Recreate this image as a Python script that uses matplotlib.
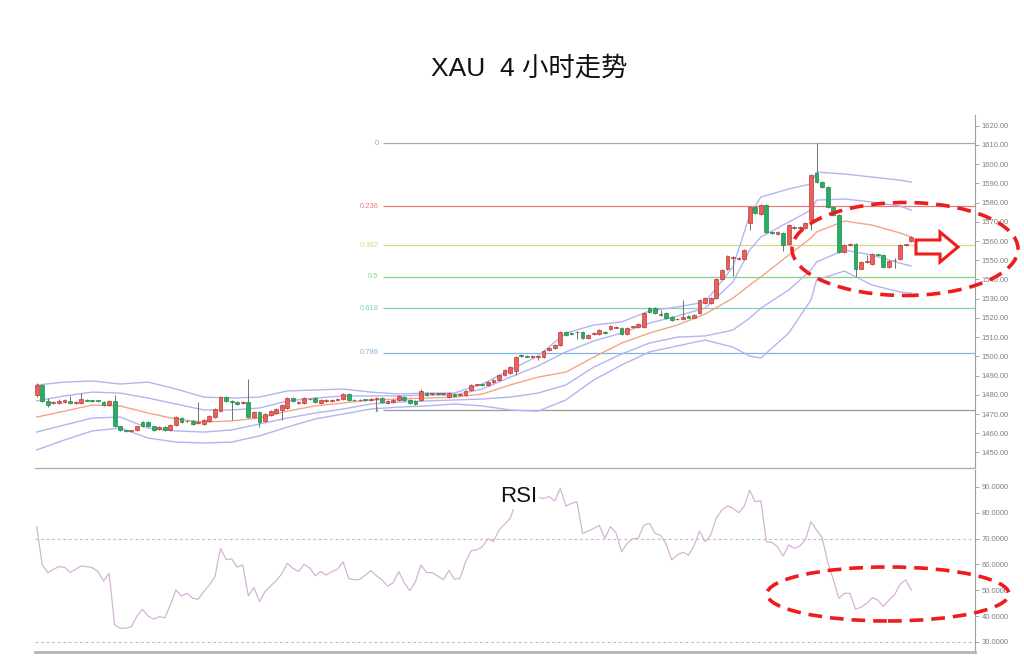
import matplotlib
matplotlib.use("Agg")
import matplotlib.pyplot as plt
from matplotlib.patches import Ellipse, Polygon, Rectangle

# ---------------- data ----------------
opens = [
    1480.0, 1485.0, 1477.0, 1475.5, 1475.5, 1476.0, 1477.0, 1475.5, 1475.8, 1477.2,
    1477.0, 1476.8, 1476.5, 1474.5, 1477.0, 1463.5, 1461.4, 1461.1, 1461.5, 1466.0,
    1466.0, 1463.5, 1462.0, 1463.0, 1461.7, 1464.5, 1468.0, 1466.3, 1466.5, 1465.3,
    1465.0, 1466.5, 1468.5, 1471.5, 1479.0, 1476.8, 1476.5, 1475.5, 1476.5, 1468.5,
    1471.2, 1466.5, 1469.5, 1470.5, 1472.0, 1473.0, 1478.2, 1475.6, 1475.6, 1477.6,
    1478.2, 1475.6, 1476.9, 1476.9, 1477.5, 1477.8, 1480.4, 1477.3, 1477.1, 1477.3,
    1477.3, 1478.0, 1478.2, 1475.8, 1476.4, 1477.3, 1478.9, 1477.3, 1476.9, 1477.3,
    1480.9, 1480.3, 1480.4, 1480.4, 1479.0, 1480.6, 1479.8, 1479.8, 1482.5, 1485.1,
    1485.1, 1485.1, 1486.8, 1487.6, 1490.5, 1491.5, 1492.5, 1500.5, 1500.2, 1499.8,
    1499.8, 1499.8, 1503.5, 1504.2, 1505.9, 1512.8, 1512.0, 1512.5, 1512.8, 1509.4,
    1511.8, 1511.8, 1512.8, 1514.0, 1515.0, 1514.6, 1511.8, 1515.2, 1515.4, 1515.4,
    1525.0, 1525.0, 1521.6, 1522.4, 1520.6, 1519.2, 1519.2, 1521.0, 1520.2, 1522.4,
    1527.6, 1528.0, 1530.2, 1540.0, 1545.5, 1551.0, 1550.9, 1550.9, 1569.2, 1577.8,
    1574.0, 1578.6, 1564.5, 1563.5, 1564.0, 1558.5, 1567.0, 1567.4, 1566.6, 1571.0,
    1595.2, 1590.9, 1588.3, 1577.8, 1573.5, 1554.4, 1558.0, 1558.3, 1545.7, 1549.0,
    1548.3, 1553.0, 1552.7, 1546.6, 1550.0, 1550.5, 1557.9, 1560.0]
highs = [
    1486.0, 1485.6, 1478.5, 1477.0, 1477.6, 1478.0, 1479.5, 1477.0, 1481.0, 1477.8,
    1477.5, 1477.4, 1477.0, 1477.5, 1480.0, 1464.0, 1461.8, 1461.6, 1464.0, 1466.5,
    1466.6, 1464.0, 1463.5, 1463.5, 1465.0, 1469.0, 1468.6, 1466.8, 1467.0, 1476.0,
    1467.5, 1469.5, 1473.0, 1479.5, 1479.6, 1477.5, 1477.0, 1476.6, 1488.0, 1471.8,
    1471.8, 1470.5, 1472.0, 1473.0, 1475.0, 1478.8, 1478.8, 1477.0, 1478.8, 1478.4,
    1478.8, 1477.8, 1477.7, 1478.0, 1478.3, 1481.0, 1481.0, 1477.8, 1477.8, 1477.8,
    1478.3, 1478.7, 1478.8, 1477.1, 1477.8, 1480.0, 1479.4, 1477.8, 1477.4, 1483.0,
    1481.4, 1481.0, 1480.9, 1481.1, 1481.5, 1481.1, 1480.5, 1482.6, 1485.6, 1485.7,
    1485.6, 1487.3, 1488.0, 1490.8, 1493.4, 1495.0, 1500.3, 1501.0, 1500.7, 1500.5,
    1500.3, 1503.5, 1504.8, 1506.4, 1513.3, 1513.3, 1512.5, 1513.3, 1513.3, 1511.6,
    1512.5, 1514.0, 1513.3, 1516.2, 1515.8, 1515.1, 1515.1, 1515.9, 1517.3, 1522.9,
    1525.6, 1525.5, 1524.0, 1522.9, 1521.1, 1520.0, 1529.3, 1521.5, 1522.0, 1529.8,
    1530.7, 1531.0, 1541.0, 1545.5, 1552.5, 1552.0, 1551.6, 1556.0, 1578.3, 1578.3,
    1579.1, 1579.1, 1565.0, 1565.0, 1564.5, 1568.8, 1567.9, 1567.9, 1570.0, 1594.8,
    1610.8, 1591.4, 1588.8, 1578.3, 1574.0, 1558.4, 1558.8, 1558.8, 1549.6, 1553.0,
    1554.0, 1553.5, 1553.2, 1550.0, 1551.0, 1558.4, 1558.6, 1562.5]
lows = [
    1479.0, 1476.2, 1473.8, 1475.0, 1475.0, 1475.5, 1475.0, 1475.0, 1475.3, 1476.6,
    1476.3, 1476.2, 1474.0, 1474.0, 1463.0, 1461.0, 1460.8, 1460.6, 1461.0, 1463.0,
    1463.0, 1461.2, 1461.5, 1461.2, 1461.2, 1464.0, 1465.5, 1465.7, 1464.5, 1464.8,
    1464.5, 1466.0, 1468.0, 1471.0, 1476.5, 1466.9, 1474.8, 1475.0, 1468.0, 1468.0,
    1463.0, 1466.0, 1469.0, 1470.0, 1467.0, 1472.5, 1476.3, 1475.1, 1475.1, 1477.1,
    1475.5, 1475.1, 1476.4, 1476.4, 1477.0, 1477.3, 1476.8, 1476.7, 1476.6, 1476.7,
    1476.8, 1471.5, 1475.9, 1475.3, 1475.9, 1476.8, 1476.8, 1475.1, 1474.7, 1476.8,
    1479.5, 1479.8, 1479.8, 1479.9, 1478.5, 1478.7, 1479.3, 1479.3, 1482.0, 1484.6,
    1484.5, 1484.6, 1486.3, 1487.1, 1490.0, 1491.0, 1490.5, 1499.9, 1499.5, 1499.3,
    1498.0, 1499.3, 1503.0, 1503.7, 1505.4, 1510.6, 1511.3, 1509.0, 1508.9, 1508.9,
    1511.3, 1511.3, 1511.5, 1513.5, 1514.5, 1511.3, 1511.3, 1514.7, 1514.9, 1514.9,
    1522.8, 1521.9, 1521.0, 1519.3, 1518.4, 1518.7, 1518.7, 1519.7, 1519.7, 1521.9,
    1527.1, 1527.5, 1529.7, 1539.5, 1545.0, 1542.0, 1550.3, 1550.4, 1565.7, 1574.0,
    1573.5, 1564.4, 1563.7, 1563.0, 1555.0, 1558.0, 1566.5, 1566.1, 1566.1, 1566.0,
    1590.4, 1587.8, 1577.3, 1573.0, 1553.9, 1553.9, 1557.5, 1541.4, 1545.2, 1548.5,
    1547.8, 1552.2, 1546.1, 1546.1, 1546.0, 1550.0, 1557.4, 1559.5]
closes = [
    1485.0, 1477.0, 1474.5, 1476.5, 1477.0, 1477.5, 1475.5, 1476.5, 1478.0, 1477.0,
    1476.8, 1476.7, 1474.5, 1477.0, 1463.5, 1461.5, 1461.1, 1461.2, 1463.5, 1463.8,
    1463.5, 1461.7, 1463.0, 1461.7, 1464.5, 1468.5, 1466.0, 1466.1, 1465.0, 1465.6,
    1467.0, 1469.0, 1472.5, 1478.7, 1477.0, 1476.5, 1475.3, 1476.0, 1468.5, 1471.2,
    1466.0, 1470.0, 1471.5, 1472.5, 1474.5, 1478.2, 1476.9, 1476.5, 1478.2, 1477.9,
    1476.0, 1477.3, 1477.2, 1477.5, 1477.8, 1480.4, 1477.3, 1477.1, 1477.3, 1477.2,
    1477.8, 1478.2, 1476.4, 1476.6, 1477.3, 1479.5, 1477.3, 1475.6, 1475.2, 1482.1,
    1480.0, 1480.5, 1480.3, 1480.6, 1481.0, 1479.2, 1480.0, 1482.1, 1485.1, 1485.2,
    1485.0, 1486.8, 1487.5, 1490.3, 1492.9, 1494.5, 1499.8, 1500.4, 1499.8, 1500.0,
    1499.8, 1503.0, 1504.2, 1505.9, 1512.8, 1511.1, 1511.8, 1512.8, 1509.4, 1511.1,
    1512.0, 1513.5, 1512.0, 1515.7, 1515.3, 1511.8, 1514.6, 1515.4, 1516.8, 1522.4,
    1523.3, 1522.4, 1521.8, 1519.8, 1518.9, 1519.5, 1520.6, 1520.2, 1521.5, 1529.3,
    1530.2, 1530.5, 1540.5, 1545.0, 1552.0, 1551.5, 1550.9, 1555.2, 1577.8, 1574.5,
    1578.6, 1564.9, 1564.2, 1564.5, 1557.9, 1568.3, 1567.4, 1566.6, 1569.5, 1594.3,
    1590.9, 1588.3, 1577.8, 1573.5, 1554.4, 1557.9, 1558.3, 1545.7, 1549.1, 1549.6,
    1553.5, 1552.7, 1546.6, 1549.5, 1550.3, 1557.9, 1558.1, 1562.0]

# Bollinger-style bands read at selected candle indices
band_idx = [0, 5, 10, 15, 20, 25, 30, 35, 40, 45, 50, 55, 60, 65, 70, 75, 80, 85, 90,
            95, 100, 105, 110, 115, 120, 125, 128, 130, 135, 139, 140, 145, 150, 155, 157]
bb_up2 = [1485.1, 1486.6, 1487.2, 1485.6, 1486.6, 1483.0, 1478.8, 1478.3, 1478.8, 1482.0,
          1482.5, 1483.0, 1481.4, 1480.4, 1480.9, 1480.9, 1485.6, 1492.9, 1500.2, 1512.1,
          1516.3, 1517.9, 1523.6, 1525.7, 1528.3, 1546.5, 1573.5, 1582.9, 1587.1, 1589.7,
          1595.9, 1594.9, 1593.3, 1591.7, 1590.7]
bb_up1 = [1476.8, 1479.4, 1481.4, 1480.9, 1478.3, 1475.2, 1472.1, 1472.1, 1473.1, 1476.8,
          1478.3, 1479.4, 1479.4, 1479.4, 1479.9, 1479.9, 1483.0, 1489.2, 1495.0, 1502.3,
          1508.0, 1512.1, 1517.3, 1521.0, 1525.1, 1538.7, 1555.3, 1562.1, 1569.9, 1576.1,
          1581.3, 1581.9, 1580.3, 1578.2, 1576.1]
bb_mid = [1468.4, 1471.5, 1474.7, 1474.2, 1470.5, 1467.4, 1465.8, 1466.4, 1467.9, 1471.5,
          1474.2, 1475.7, 1477.3, 1477.8, 1478.3, 1478.8, 1480.4, 1485.1, 1489.2, 1491.8,
          1499.6, 1506.9, 1512.1, 1516.3, 1522.0, 1530.3, 1537.1, 1541.3, 1552.7, 1561.6,
          1564.7, 1570.4, 1568.3, 1564.2, 1562.1]
bb_lo1 = [1460.6, 1464.3, 1467.9, 1468.4, 1462.7, 1461.2, 1460.6, 1461.7, 1464.8, 1467.9,
          1470.5, 1472.6, 1475.2, 1476.2, 1476.8, 1477.3, 1477.8, 1478.8, 1480.9, 1485.1,
          1494.4, 1501.2, 1506.9, 1510.0, 1510.6, 1513.7, 1519.9, 1525.1, 1534.5, 1544.9,
          1549.1, 1555.3, 1552.7, 1548.5, 1547.0]
bb_lo2 = [1451.3, 1456.5, 1461.2, 1462.7, 1457.5, 1455.4, 1454.9, 1455.4, 1458.6, 1463.2,
          1467.4, 1470.0, 1472.6, 1473.6, 1474.2, 1475.2, 1474.2, 1472.1, 1471.5, 1477.3,
          1487.7, 1495.5, 1502.3, 1505.4, 1508.5, 1504.8, 1500.2, 1499.1, 1512.1, 1529.3,
          1539.7, 1544.4, 1537.1, 1533.5, 1532.9]

rsi = [74.5, 59.8, 56.8, 58.1, 59.1, 58.9, 56.9, 58.1, 59.4, 59.1,
       58.7, 57.2, 53.6, 56.5, 36.6, 35.3, 35.3, 35.9, 40.0, 42.6,
       40.0, 38.8, 39.8, 39.3, 44.3, 50.1, 47.8, 48.8, 46.9, 46.5,
       49.5, 52.0, 55.2, 66.2, 61.9, 62.1, 58.9, 59.8, 47.8, 51.1,
       45.6, 49.5, 51.6, 53.7, 56.3, 60.4, 58.5, 57.2, 60.0, 58.7,
       55.6, 57.2, 55.9, 57.2, 58.1, 61.0, 54.6, 54.0, 54.2, 55.8,
       57.6, 55.6, 54.0, 51.6, 52.9, 57.2, 52.7, 49.8, 53.3, 59.8,
       56.8, 56.8, 55.5, 54.0, 57.6, 54.2, 54.6, 61.0, 65.3, 65.6,
       66.8, 69.9, 68.8, 73.3, 75.5, 77.8, 83.8, 85.5, 86.2, 85.1,
       85.9, 85.5, 86.2, 84.5, 89.4, 82.6, 83.6, 84.2, 72.0, 72.9,
       73.9, 75.1, 70.1, 74.6, 72.2, 64.9, 68.1, 69.9, 70.1, 75.2,
       75.9, 72.0, 71.2, 67.9, 61.7, 63.6, 64.7, 63.6, 67.1, 72.9,
       68.8, 71.3, 77.8, 81.0, 82.6, 81.7, 80.0, 82.3, 88.7, 84.2,
       84.6, 68.8, 68.5, 66.8, 63.2, 67.5, 66.2, 67.1, 69.4, 76.5,
       73.3, 70.4, 61.0, 54.2, 46.9, 48.8, 48.8, 42.6, 43.4, 44.9,
       47.1, 46.2, 43.7, 46.2, 48.2, 52.3, 54.0, 50.1]

fib_levels = [0, 0.236, 0.382, 0.5, 0.618, 0.786, 1]
fib_labels = ["0", "0.236", "0.382", "0.5", "0.618", "0.786", "1"]
fib_colors = ["#a8a8a8", "#e77b7b", "#d6d98a", "#86d486", "#7fd0bd", "#7fb3e3", "#9a9a9a"]
fib_high = 1611.0
fib_low = 1472.0
fib_start = 62.1

price_ticks = [1450, 1460, 1470, 1480, 1490, 1500, 1510, 1520, 1530, 1540,
               1550, 1560, 1570, 1580, 1590, 1600, 1610, 1620]
rsi_ticks = [30, 40, 50, 60, 70, 80, 90]
rsi_guides = [70, 30]

title = "XAU  4 小时走势"

# ---------------- figure ----------------
plt.rcParams['font.family'] = ['Liberation Sans', 'Noto Sans CJK SC', 'DejaVu Sans']

W, H = 1024, 664
fig = plt.figure(figsize=(W / 100, H / 100), dpi=100)
fig.patch.set_facecolor("white")

def fx(x):
    return x / W

def fy(y):
    return 1 - y / H

ax = fig.add_axes([fx(35), fy(468), fx(975) - fx(35), fy(115) - fy(468)])
ax2 = fig.add_axes([fx(35), fy(652), fx(975) - fx(35), fy(470) - fy(652)])

XL = (-0.3, 168.45)

# bands
band_col = "#b4b4f2"
ax.plot(band_idx, bb_up2, color=band_col, lw=1.0, zorder=2)
ax.plot(band_idx, bb_up1, color=band_col, lw=1.0, zorder=2)
ax.plot(band_idx, bb_lo1, color=band_col, lw=1.0, zorder=2)
ax.plot(band_idx, bb_lo2, color=band_col, lw=1.0, zorder=2)
ax.plot(band_idx, bb_mid, color="#f4a487", lw=1.0, zorder=2)

# fibonacci lines
for lev, lab, col in zip(fib_levels, fib_labels, fib_colors):
    p = fib_high - lev * (fib_high - fib_low)
    ax.hlines(p, fib_start, XL[1], color=col, lw=0.9, zorder=1)
    ax.text(fib_start - 0.7, p, lab, ha="right", va="center", fontsize=5.5, color=col)

# candles
red_face, red_edge = "#e8615e", "#c0392f"
grn_face, grn_edge = "#27ae60", "#1e8a4a"
for i in range(len(closes)):
    o, h, l, c = opens[i], highs[i], lows[i], closes[i]
    up = c >= o
    face = red_face if up else grn_face
    edge = red_edge if up else grn_edge
    ax.vlines(i, l, h, color="#707070", lw=0.7, zorder=3)
    b = min(o, c)
    hgt = max(abs(c - o), 0.4)
    ax.add_patch(Rectangle((i - 0.34, b), 0.68, hgt, facecolor=face, edgecolor=edge,
                           lw=0.5, zorder=4))

ax.set_xlim(*XL)
ax.set_ylim(1441.9, 1625.6)
ax.yaxis.tick_right()
ax.set_yticks(price_ticks)
ax.set_yticklabels([f"{t:.2f}" for t in price_ticks])
ax.set_xticks([])
ax.tick_params(axis="y", direction="out", length=3, width=0.6, colors="#9a9a9a",
               labelcolor="#808080", labelsize=5.5, pad=2)
for s in ["left", "top"]:
    ax.spines[s].set_visible(False)
ax.spines["right"].set_color("#a0a0a0")
ax.spines["right"].set_linewidth(0.8)
ax.spines["bottom"].set_color("#b0b0b0")
ax.spines["bottom"].set_linewidth(1.0)

# RSI
ax2.plot(range(len(rsi)), rsi, color="#d5b3d8", lw=0.9, zorder=3)
for g in rsi_guides:
    ax2.axhline(g, color="#bdbdbd", lw=0.8, ls=(0, (2.5, 2.5)), zorder=1)
ax2.set_xlim(*XL)
ax2.set_ylim(26.1, 96.5)
ax2.yaxis.tick_right()
ax2.set_yticks(rsi_ticks)
ax2.set_yticklabels([f"{t:.4f}" for t in rsi_ticks])
ax2.set_xticks([])
ax2.tick_params(axis="y", direction="out", length=3, width=0.6, colors="#9a9a9a",
                labelcolor="#808080", labelsize=5.5, pad=2)
for s in ["left", "top"]:
    ax2.spines[s].set_visible(False)
ax2.spines["right"].set_color("#a0a0a0")
ax2.spines["right"].set_linewidth(0.8)
ax2.spines["bottom"].set_color("#b5b5b5")
ax2.spines["bottom"].set_linewidth(2.0)

# texts
fig.text(fx(529), fy(68), title, ha="center", va="center", fontsize=19, color="#111111")
fig.text(fx(519), fy(497), "RSI", ha="center", va="center", fontsize=16, color="#111111",
         bbox=dict(facecolor="white", edgecolor="none", pad=1.0), zorder=5)

# red dashed ellipses
dash = (0, (3.8, 2.2))
e1 = Ellipse((fx(905), fy(249)), fx(226), 93 / H, fill=False, edgecolor="#ee1c1c",
             lw=2.6, ls=dash, transform=fig.transFigure, zorder=10)
e2 = Ellipse((fx(888), fy(594)), fx(242), 54 / H, fill=False, edgecolor="#ee1c1c",
             lw=2.6, ls=dash, transform=fig.transFigure, zorder=10)
fig.add_artist(e1)
fig.add_artist(e2)

# hollow arrow
arrow_pts = [(916, 240), (940, 240), (940, 232), (958, 247), (940, 262), (940, 254), (916, 254)]
arrow = Polygon([(fx(x), fy(y)) for x, y in arrow_pts], closed=True, facecolor="white",
                edgecolor="#ee1c1c", lw=2.2, transform=fig.transFigure, zorder=11)
fig.add_artist(arrow)

fig.savefig("out.png", dpi=100, facecolor="white")
